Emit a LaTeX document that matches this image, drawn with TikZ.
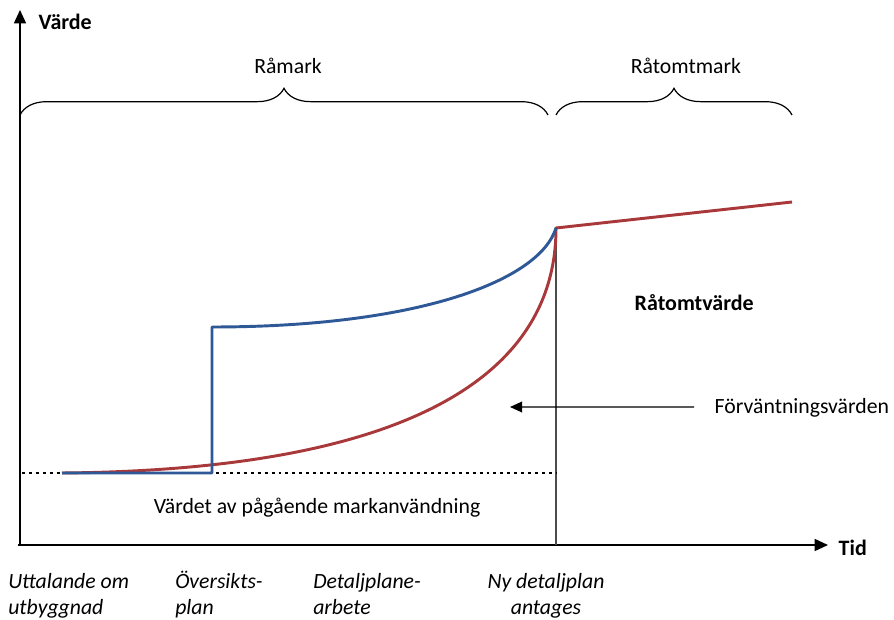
\documentclass[tikz,border=0pt]{standalone}
\usepackage{fontspec}
\setmainfont{Carlito}
\usetikzlibrary{arrows.meta}
\usetikzlibrary{decorations.pathreplacing}
\usetikzlibrary{positioning}
\definecolor{kurvblue}{RGB}{46,88,150}
\definecolor{kurvred}{RGB}{168,56,58}
\tikzset{
axel/.style={line width=1.2pt,-{Triangle[length=10pt,width=9pt]}},
klammer/.style={decorate,decoration={brace,amplitude=20pt,aspect=0.5},line width=0.9pt},
kurva/.style={line width=2.2pt,line join=round},
prickad/.style={line width=2.2pt,dash pattern=on 2.2pt off 3pt},
rubrik/.style={font=\bfseries\fontsize{16.5}{19}\selectfont},
text11/.style={font=\fontsize{16.3}{19}\selectfont},
etikett/.style={font=\itshape\fontsize{16.3}{20.25}\selectfont,inner sep=0pt},
}
\begin{document}
\begin{tikzpicture}[x=0.75pt,y=-0.75pt]
\useasboundingbox (0,0) rectangle (894,620);
% axlar
\coordinate (origo) at (20,545);
\coordinate (ytopp) at (20,10);
\coordinate (xslut) at (828,545);
\draw[axel] ([xshift=-1.5pt]origo) -- (xslut);
\draw[axel] (origo) -- (ytopp);
\node[rubrik,anchor=west] (varde) at (34,22) {Värde};
\node[rubrik,anchor=west] (tid) at (834,548) {Tid};

% klammrar
\coordinate (k1a) at (20,115);
\coordinate (k1b) at (548,115);
\coordinate (k2a) at (556,115);
\coordinate (k2b) at (792,115);
\draw[klammer] (k1a) -- (k1b);
\draw[klammer] (k2a) -- (k2b);
\node[text11] (ramark) at (288,66) {Råmark};
\node[text11] (ratomtmark) at (686,66) {Råtomtmark};

% kurvor
\coordinate (start) at (62,473);
\coordinate (hopp) at (212,473);
\coordinate (hopptopp) at (212,327);
\coordinate (antag) at (556,228);
\coordinate (antagbas) at (556,545);
\coordinate (slut) at (792,202);
\coordinate (pstart) at (22,473);
\coordinate (pslut) at (556,473);
\draw[gray!60!black,line width=0.9pt] (antagbas) -- (antag);
\draw[prickad] (pstart) -- (pslut);
\draw[kurva,kurvred] (start) .. controls (400,470) and (556,380) .. (antag) -- (slut);
\draw[kurva,kurvblue] (start) -- (hopp) -- (hopptopp) .. controls (420,327) and (540,280) .. (antag);

% texter
\node[rubrik,anchor=west] (ratomtvarde) at (630,303) {Råtomtvärde};
\node[text11,anchor=west] (forvant) at (710,408) {Förväntningsvärden};
\coordinate (pilspets) at (510,407);
\draw[line width=1pt,-{Triangle[length=9pt,width=8pt]}] ([xshift=-12pt,yshift=0.7pt]forvant.west) -- (pilspets);
\node[text11] (nuvarde) at (317,508) {Värdet av pågående markanvändning};

% tidpunkter
\node[etikett,align=left,anchor=base west] (uttalande) at (8,615) {Uttalande om\\utbyggnad};
\node[etikett,align=left,anchor=base west] (oversikt) at (175,615) {Översikts-\\plan};
\node[etikett,align=left,anchor=base west] (detaljarb) at (313,615) {Detaljplane-\\arbete};
\node[etikett,align=center,anchor=base] (nydetalj) at (546,615) {Ny detaljplan\\antages};
\end{tikzpicture}
\end{document}
